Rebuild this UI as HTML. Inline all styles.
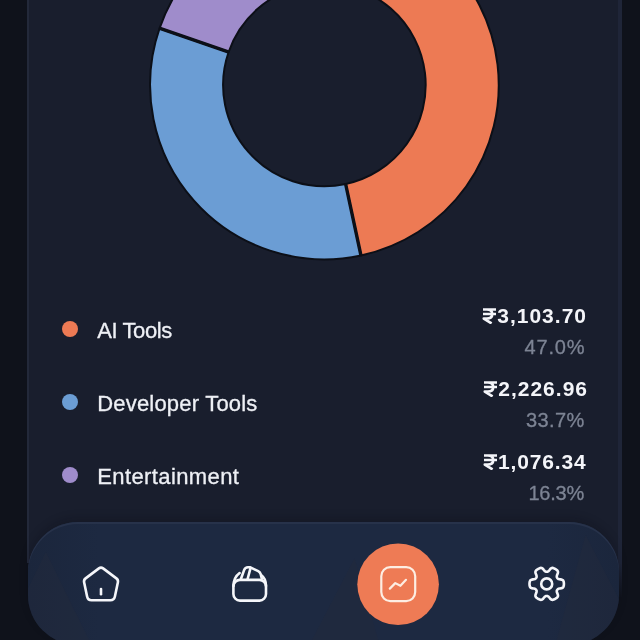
<!DOCTYPE html>
<html lang="en">
<head>
<meta charset="utf-8">
<title>Spending by category</title>
<style>
*{box-sizing:border-box;margin:0;padding:0}
html,body{width:640px;height:640px;overflow:hidden;background:#0f121b}
body{position:relative;font-family:"Liberation Sans",sans-serif;color:#f2f4f8}
.card{position:absolute;left:27px;top:-40px;width:595px;height:603px;background:#191e2d;border-left:2px solid #23293a;border-right:4px solid #1f2538}
.card:after{content:"";position:absolute;right:-4px;top:100%;width:4px;height:34px;background:linear-gradient(#1f2538,#10131c)}
.chart{position:absolute;left:0;top:0;width:640px;height:300px;overflow:hidden}
.row{position:absolute;left:0;width:640px;height:60px;will-change:transform}
.dot{position:absolute;left:62px;top:21px;width:16px;height:16px;border-radius:50%}
.label{position:absolute;left:97.2px;top:17.6px;font-size:22px;line-height:26px;white-space:nowrap;color:#eef0f5;-webkit-text-stroke:0.3px #eef0f5}
.amt{position:absolute;right:54px;top:3px;font-size:21px;line-height:26px;font-weight:bold;white-space:nowrap;color:#f4f5f9;letter-spacing:1px}
.amt svg{display:inline-block;vertical-align:-1px;margin:0 0 0 1px}
.pct{position:absolute;right:54.7px;top:36px;font-size:20px;line-height:22px;white-space:nowrap;color:#7d8494;letter-spacing:0.8px;-webkit-text-stroke:0.3px #7d8494}
.nav{position:absolute;left:28px;top:522px;width:591px;height:123px;border-radius:50px;background:linear-gradient(90deg,#1b263c 0,#1d2941 12%,#1d2941 88%,#1b263c 100%);box-shadow:inset 0 2px 0 #27324a,0 -4px 8px rgba(8,10,18,0.22)}
.icons{position:absolute;left:0;top:0}
</style>
</head>
<body>
<div class="card"></div>

<svg class="chart" width="640" height="300" viewBox="0 0 640 300">
<g stroke="#0c0f17" stroke-width="2" stroke-linejoin="round">
<path d="M320.45 -89.26A174.3 174.3 0 0 1 360.94 255.43L345.63 184.05A101.3 101.3 0 0 0 322.10 -16.27Z" fill="#ed7a54"/>
<path d="M360.94 255.43A174.3 174.3 0 0 1 159.60 28.25L228.62 52.02A101.3 101.3 0 0 0 345.63 184.05Z" fill="#6b9dd4"/>
<path d="M159.60 28.25A174.3 174.3 0 0 1 287.27 -85.30L302.82 -13.97A101.3 101.3 0 0 0 228.62 52.02Z" fill="#9f8ccb"/>
<path d="M287.27 -85.30A174.3 174.3 0 0 1 320.45 -89.26L322.10 -16.27A101.3 101.3 0 0 0 302.82 -13.97Z" fill="#6fbf9a"/>
<path d="M322.11 -15.97L320.44 -89.56M345.57 183.76L361.00 255.72M228.90 52.12L159.31 28.16M302.88 -13.68L287.20 -85.59" fill="none" stroke-width="3.4"/>
</g>
</svg>

<div class="row" style="top:300px">
  <span class="dot" style="background:#ed7a54"></span>
  <span class="label" style="letter-spacing:-0.4px">AI Tools</span>
  <span class="amt" style="right:53px"><svg width="15" height="16" viewBox="0 0 15 16" role="img" aria-label="₹"><path d="M1 1.5H14M1 6H14M1 1.5H4.8C8.6 1.5 10.2 3.4 10.2 6C10.2 8.8 8.4 10.6 4.8 10.6H1.8L9.6 15.4" fill="none" stroke="#f4f5f9" stroke-width="2.7" stroke-linejoin="round"/></svg>3,103.70</span>
  <span class="pct">47.0%</span>
</div>
<div class="row" style="top:373px">
  <span class="dot" style="background:#6b9dd4"></span>
  <span class="label" style="letter-spacing:0.2px">Developer Tools</span>
  <span class="amt" style="right:52px"><svg width="15" height="16" viewBox="0 0 15 16" role="img" aria-label="₹"><path d="M1 1.5H14M1 6H14M1 1.5H4.8C8.6 1.5 10.2 3.4 10.2 6C10.2 8.8 8.4 10.6 4.8 10.6H1.8L9.6 15.4" fill="none" stroke="#f4f5f9" stroke-width="2.7" stroke-linejoin="round"/></svg>2,226.96</span>
  <span class="pct" style="letter-spacing:0.4px;right:55.4px">33.7%</span>
</div>
<div class="row" style="top:446px">
  <span class="dot" style="background:#9f8ccb"></span>
  <span class="label" style="letter-spacing:0.4px">Entertainment</span>
  <span class="amt" style="right:53.4px;letter-spacing:0.85px"><svg width="15" height="16" viewBox="0 0 15 16" role="img" aria-label="₹"><path d="M1 1.5H14M1 6H14M1 1.5H4.8C8.6 1.5 10.2 3.4 10.2 6C10.2 8.8 8.4 10.6 4.8 10.6H1.8L9.6 15.4" fill="none" stroke="#f4f5f9" stroke-width="2.7" stroke-linejoin="round"/></svg>1,076.34</span>
  <span class="pct" style="letter-spacing:-0.2px;right:55.9px">16.3%</span>
</div>

<div class="nav">
<svg class="icons" width="592" height="124" viewBox="28 522 592 124">
  <defs><clipPath id="navclip"><rect x="28" y="524" width="591" height="121" rx="50"/></clipPath></defs>
  <g clip-path="url(#navclip)" fill="#242a3c" opacity="0.45">
    <path d="M45.8 552L26 593V646H92Z"/>
    <path d="M585.6 535L555 646H643Z"/>
    <path d="M354.5 558.4L309 646H380Z"/>
  </g>
  <!-- home -->
  <g fill="none" stroke="#f5f6fa" stroke-width="2.6" stroke-linecap="round" stroke-linejoin="round">
    <path d="M98.9 568.4Q101 566.8 103.1 568.4L116.4 578.4Q118.4 579.9 117.9 582.3L114.9 596.4Q114.1 600.2 110.4 600.2H91.6Q87.9 600.2 87.1 596.4L84.1 582.3Q83.6 579.9 85.6 578.4Z"/>
    <path d="M101 589V594.2"/>
  </g>
  <!-- wallet -->
  <g fill="none" stroke="#f5f6fa" stroke-width="2.6" stroke-linecap="round" stroke-linejoin="round">
    <rect x="233.4" y="579.9" width="32.6" height="20.7" rx="6.5"/>
    <path d="M233.5 586C233.5 579.5 235.5 576 239.6 573"/>
    <path d="M240.9 579L244.2 569.9Q245.2 567.1 248.2 567.2L250.4 567.4L258.2 571.2Q260.1 572.2 260.7 574.2L261.8 578.6"/>
    <path d="M247.6 579L250.5 568.2"/>
    <path d="M261.4 575.2C264.5 577.4 266 580.6 266 586"/>
  </g>
  <!-- analytics (active) -->
  <circle cx="398.1" cy="584.3" r="40.8" fill="#ee7b55"/>
  <g fill="none" stroke="#fdeee3" stroke-width="2.2" stroke-linecap="round" stroke-linejoin="round">
    <rect x="381.3" y="567.2" width="33.9" height="33.9" rx="9"/>
    <path d="M389.8 588.6L395.3 583.1L400.4 585.8L406 579.8"/>
  </g>
  <!-- settings -->
  <g fill="none" stroke="#f5f6fa" stroke-width="2.6" stroke-linejoin="round">
    <path d="M563.9 583.9L563.9 584.5L563.8 585.1L563.8 585.7L563.6 586.3L563.4 586.8L563.1 587.4L562.5 587.8L561.6 588.2L560.4 588.4L559.4 588.5L558.6 588.7L558.1 589.0L557.7 589.3L557.4 589.6L557.2 589.9L557.0 590.3L556.8 590.7L556.8 591.2L556.8 591.8L557.0 592.6L557.4 593.6L557.8 594.6L558.0 595.6L557.9 596.3L557.6 596.9L557.2 597.4L556.8 597.8L556.3 598.1L555.8 598.5L555.3 598.8L554.8 599.1L554.2 599.3L553.7 599.6L553.1 599.8L552.5 599.9L551.9 599.8L551.2 599.5L550.4 598.9L549.7 598.0L549.0 597.2L548.5 596.6L548.0 596.3L547.6 596.1L547.1 596.0L546.7 596.0L546.3 596.0L545.8 596.1L545.4 596.3L544.9 596.6L544.4 597.2L543.7 598.0L543.0 598.9L542.2 599.5L541.5 599.8L540.9 599.9L540.3 599.8L539.7 599.6L539.2 599.3L538.6 599.1L538.1 598.8L537.6 598.5L537.1 598.1L536.6 597.8L536.2 597.4L535.8 596.9L535.5 596.3L535.4 595.6L535.6 594.6L536.0 593.6L536.4 592.6L536.6 591.8L536.6 591.2L536.6 590.7L536.4 590.3L536.2 589.9L536.0 589.6L535.7 589.3L535.3 589.0L534.8 588.7L534.0 588.5L533.0 588.4L531.8 588.2L530.9 587.8L530.3 587.4L530.0 586.8L529.8 586.3L529.6 585.7L529.6 585.1L529.5 584.5L529.5 583.9L529.5 583.3L529.6 582.7L529.6 582.1L529.8 581.5L530.0 581.0L530.3 580.4L530.9 580.0L531.8 579.6L533.0 579.4L534.0 579.3L534.8 579.1L535.3 578.8L535.7 578.5L536.0 578.2L536.2 577.9L536.4 577.5L536.6 577.1L536.6 576.6L536.6 576.0L536.4 575.2L536.0 574.2L535.6 573.2L535.4 572.2L535.5 571.5L535.8 570.9L536.2 570.4L536.6 570.0L537.1 569.7L537.6 569.3L538.1 569.0L538.6 568.7L539.2 568.5L539.7 568.2L540.3 568.0L540.9 567.9L541.5 568.0L542.2 568.3L543.0 568.9L543.7 569.8L544.4 570.6L544.9 571.2L545.4 571.5L545.8 571.7L546.3 571.8L546.7 571.8L547.1 571.8L547.6 571.7L548.0 571.5L548.5 571.2L549.0 570.6L549.7 569.8L550.4 568.9L551.2 568.3L551.9 568.0L552.5 567.9L553.1 568.0L553.7 568.2L554.2 568.5L554.8 568.7L555.3 569.0L555.8 569.3L556.3 569.7L556.8 570.0L557.2 570.4L557.6 570.9L557.9 571.5L558.0 572.2L557.8 573.2L557.4 574.2L557.0 575.2L556.8 576.0L556.8 576.6L556.8 577.1L557.0 577.5L557.2 577.9L557.4 578.2L557.7 578.5L558.1 578.8L558.6 579.1L559.4 579.3L560.4 579.4L561.6 579.6L562.5 580.0L563.1 580.4L563.4 581.0L563.6 581.5L563.8 582.1L563.8 582.7L563.9 583.3Z"/>
    <circle cx="546.7" cy="583.9" r="5.5"/>
  </g>
</svg>
</div>
</body>
</html>
